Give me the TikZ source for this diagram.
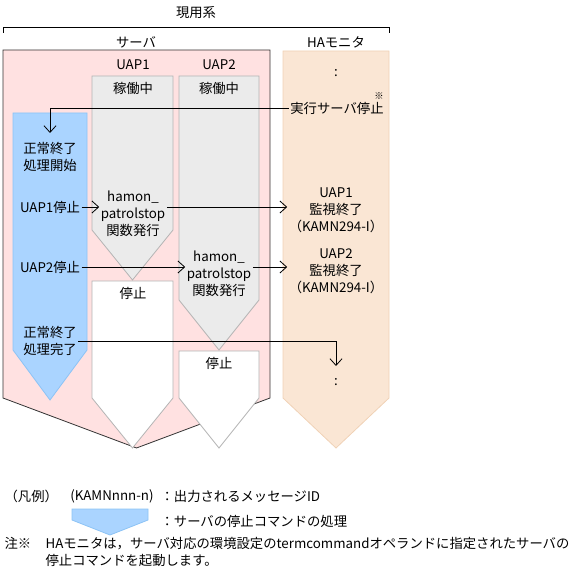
\documentclass[tikz,border=0pt]{standalone}
\usepackage{fontspec}
\setmainfont{Noto Sans CJK JP}
\usetikzlibrary{arrows.meta,positioning}
\definecolor{srvpink}{RGB}{255,225,225}
\definecolor{runfill}{RGB}{235,235,235}
\definecolor{boxline}{RGB}{180,180,180}
\definecolor{cmdblue}{RGB}{170,212,255}
\definecolor{cmdline}{RGB}{140,195,245}
\definecolor{hafill}{RGB}{250,230,212}
\definecolor{haline}{RGB}{240,210,182}

\begin{document}
\begin{tikzpicture}[x=0.75pt,y=-0.75pt,
	font=\fontsize{10}{12.75}\selectfont,
	every node/.style={inner sep=1pt,align=center},
	arr/.style={-{Straight Barb[length=5pt,width=9pt]},line width=0.6pt},
	srv/.style={fill=srvpink,draw=black!80,line width=0.6pt},
	ha/.style={fill=hafill,draw=haline,line width=0.6pt},
	run/.style={fill=runfill,draw=boxline,line width=0.6pt},
	halt/.style={fill=white,draw=boxline,line width=0.6pt},
	cmd/.style={fill=cmdblue,draw=cmdline,line width=0.6pt}]
	\useasboundingbox (0,0) rectangle (581,581);
	% bracket and areas
	\draw[line width=0.6pt] (3,33)--(3,27)--(389,27)--(389,33);
	\node (genyo) at (196,13) {現用系};
	\node (srvlbl) at (136,42) {サーバ};
	\node (halbl) at (336,42) {HAモニタ};
	\draw[srv] (3,50)--(270,50)--(270,398)--(136.5,448)--(3,398)--cycle;
	\draw[ha] (283,51)--(389,51)--(389,398)--(336,448)--(283,398)--cycle;
	% UAP1
	\draw[run] (92,76)--(173,76)--(173,230)--(132.5,280)--(92,230)--cycle;
	\draw[halt] (92,281)--(173,281)--(173,398)--(132.5,448)--(92,398)--cycle;
	% UAP2
	\draw[run] (179,76)--(259,76)--(259,300)--(219,350)--(179,300)--cycle;
	\draw[halt] (179,351)--(259,351)--(259,398)--(219,448)--(179,398)--cycle;
	% stop command
	\draw[cmd] (13,113)--(87,113)--(87,350)--(50,400)--(13,350)--cycle;

	\node (uap1) at (133,65) {UAP1};
	\node (uap2) at (219,65) {UAP2};
	\node (run1) at (133,88) {稼働中};
	\node (run2) at (219,88) {稼働中};
	\node (halt1) at (133,293) {停止};
	\node (halt2) at (219,363) {停止};
	\node (ham1) at (133,214) {hamon\_\\patrolstop\\関数発行};
	\node (ham2) at (219,274) {hamon\_\\patrolstop\\関数発行};

	\node (begin) at (50,156.5) {正常終了\\処理開始};
	\node (stop1) at (50,207) {UAP1停止};
	\node (stop2) at (50,267) {UAP2停止};
	\node (done) at (50,341) {正常終了\\処理完了};

	\node (hadot1) at (336,73) {:};
	\node (hastop) at (337,108) {実行サーバ停止};
	\node[font=\fontsize{7}{8}\selectfont] (note1) at (379,96) {※};
	\node (mon1) at (336,210) {UAP1\\監視終了\\（KAMN294-I）};
	\node (mon2) at (336,271) {UAP2\\監視終了\\（KAMN294-I）};
	\node (hadot2) at (336,382) {:};

	% connectors
	\coordinate (inbegin) at (50,133);
	\coordinate (inend) at (336,366);
	\draw[arr] (hastop.west) -| (inbegin);
	\draw[arr] (stop1.east) -- (stop1.east -| ham1.west);
	\draw[arr] (ham1.east |- stop1) -- (mon1.west |- stop1);
	\draw[arr] (stop2.east) -- (stop2.east -| ham2.west);
	\draw[arr] (ham2.east |- stop2) -- (mon2.west |- stop2);
	\draw[arr] (done.east) -| (inend);

	% legend
	\node[anchor=west] (legend) at (3,496) {（凡例）};
	\node (msgid) at (112,496) {(KAMNnnn-n)};
	\node[anchor=west] (msgtxt) at (159,496) {：出力されるメッセージID};
	\draw[cmd] (72,509)--(148,509)--(148,520)--(110,535)--(72,520)--cycle;
	\node[anchor=west] (cmdtxt) at (159,521) {：サーバの停止コマンドの処理};
	\node[anchor=west] (notemark) at (3,543) {注※};
	\node[anchor=west,align=left] (notetxt) at (44,551.5)
		{HAモニタは，サーバ対応の環境設定のtermcommandオペランドに指定されたサーバの\\停止コマンドを起動します。};
\end{tikzpicture}
\end{document}
